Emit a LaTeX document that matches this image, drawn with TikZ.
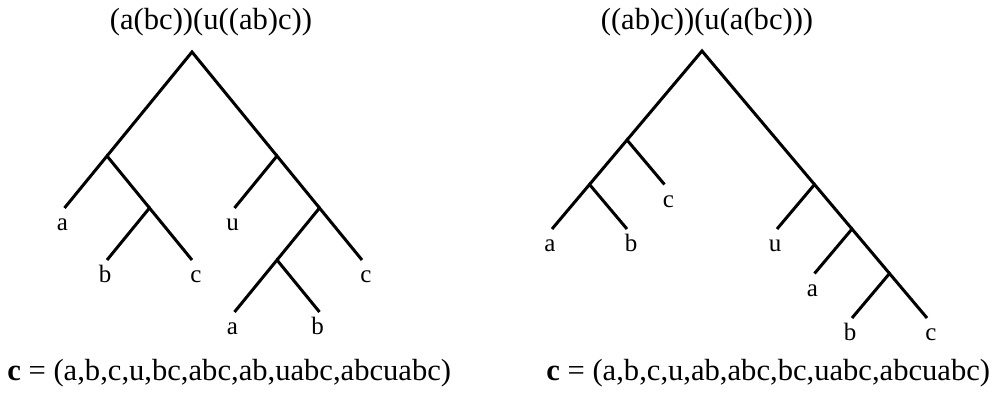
\documentclass[tikz,border=0pt]{standalone}
\usepackage{fontspec}
\setmainfont{Liberation Serif}
\usetikzlibrary{positioning}

\begin{document}
\begin{tikzpicture}[x=0.5pt,y=0.5pt,
  branch/.style={line width=1.5pt},
  leaf/.style={font=\fontsize{12.5}{14}\selectfont,anchor=base,yshift=-11.5pt},
  leafl/.style={leaf,xshift=-1pt},
  leafr/.style={leaf,xshift=2pt},
  word/.style={font=\fontsize{15.3}{18}\selectfont,inner sep=0pt}]
  \useasboundingbox (0,0) rectangle (996,395);

  % Left tree: (a(bc))(u((ab)c))
  \begin{scope}[shift={(192,343)},x=21.25pt,y=26pt]
    \coordinate (L) at (0,0);
    \coordinate (Ll) at (-2,-2);
    \coordinate (Lr) at (2,-2);
    \coordinate (La) at (-3,-3);
    \coordinate (Lbc) at (-1,-3);
    \coordinate (Lb) at (-2,-4);
    \coordinate (Lc) at (0,-4);
    \coordinate (Lu) at (1,-3);
    \coordinate (Labc) at (3,-3);
    \coordinate (Lab) at (2,-4);
    \coordinate (Lc2) at (4,-4);
    \coordinate (La2) at (1,-5);
    \coordinate (Lb2) at (3,-5);
    \draw[branch] (Ll) -- (L) -- (Lr);
    \draw[branch] (La) -- (Ll) -- (Lbc);
    \draw[branch] (Lb) -- (Lbc) -- (Lc);
    \draw[branch] (Lu) -- (Lr) -- (Labc);
    \draw[branch] (Lab) -- (Labc) -- (Lc2);
    \draw[branch] (La2) -- (Lab) -- (Lb2);
    \node[leafl] (la) at (La) {a};
    \node[leafl] (lb) at (Lb) {b};
    \node[leafr] (lc) at (Lc) {c};
    \node[leafl] (lu) at (Lu) {u};
    \node[leafr] (lc2) at (Lc2) {c};
    \node[leafl] (la2) at (La2) {a};
    \node[leafl] (lb2) at (Lb2) {b};
  \end{scope}

  % Right tree: ((ab)c))(u(a(bc)))
  \begin{scope}[shift={(702,344)},x=18.75pt,y=22.25pt]
    \coordinate (R) at (0,0);
    \coordinate (Rl) at (-2,-2);
    \coordinate (Rab) at (-3,-3);
    \coordinate (Rc) at (-1,-3);
    \coordinate (Ra) at (-4,-4);
    \coordinate (Rb) at (-2,-4);
    \coordinate (Rr) at (3,-3);
    \coordinate (Ru) at (2,-4);
    \coordinate (Rabc) at (4,-4);
    \coordinate (Ra2) at (3,-5);
    \coordinate (Rbc) at (5,-5);
    \coordinate (Rb2) at (4,-6);
    \coordinate (Rc2) at (6,-6);
    \draw[branch] (Rl) -- (R) -- (Rr);
    \draw[branch] (Rab) -- (Rl) -- (Rc);
    \draw[branch] (Ra) -- (Rab) -- (Rb);
    \draw[branch] (Ru) -- (Rr) -- (Rabc);
    \draw[branch] (Ra2) -- (Rabc) -- (Rbc);
    \draw[branch] (Rb2) -- (Rbc) -- (Rc2);
    \node[leafr] (rc) at (Rc) {c};
    \node[leafl] (ra) at (Ra) {a};
    \node[leafr] (rb) at (Rb) {b};
    \node[leafl] (ru) at (Ru) {u};
    \node[leafl] (ra2) at (Ra2) {a};
    \node[leafl] (rb2) at (Rb2) {b};
    \node[leafr] (rc2) at (Rc2) {c};
  \end{scope}

  % Expressions and their vectors.
  \node[word,anchor=base] (exprL) at (211,365) {(a(bc))(u((ab)c))};
  \node[word,anchor=base] (exprR) at (707,365) {((ab)c))(u(a(bc)))};
  \node[word,anchor=base west] (vecL) at (7,14) {\textbf{c} = (a,b,c,u,bc,abc,ab,uabc,abcuabc)};
  \node[word,anchor=base west] (vecR) at (546,14) {\textbf{c} = (a,b,c,u,ab,abc,bc,uabc,abcuabc)};
\end{tikzpicture}
\end{document}
